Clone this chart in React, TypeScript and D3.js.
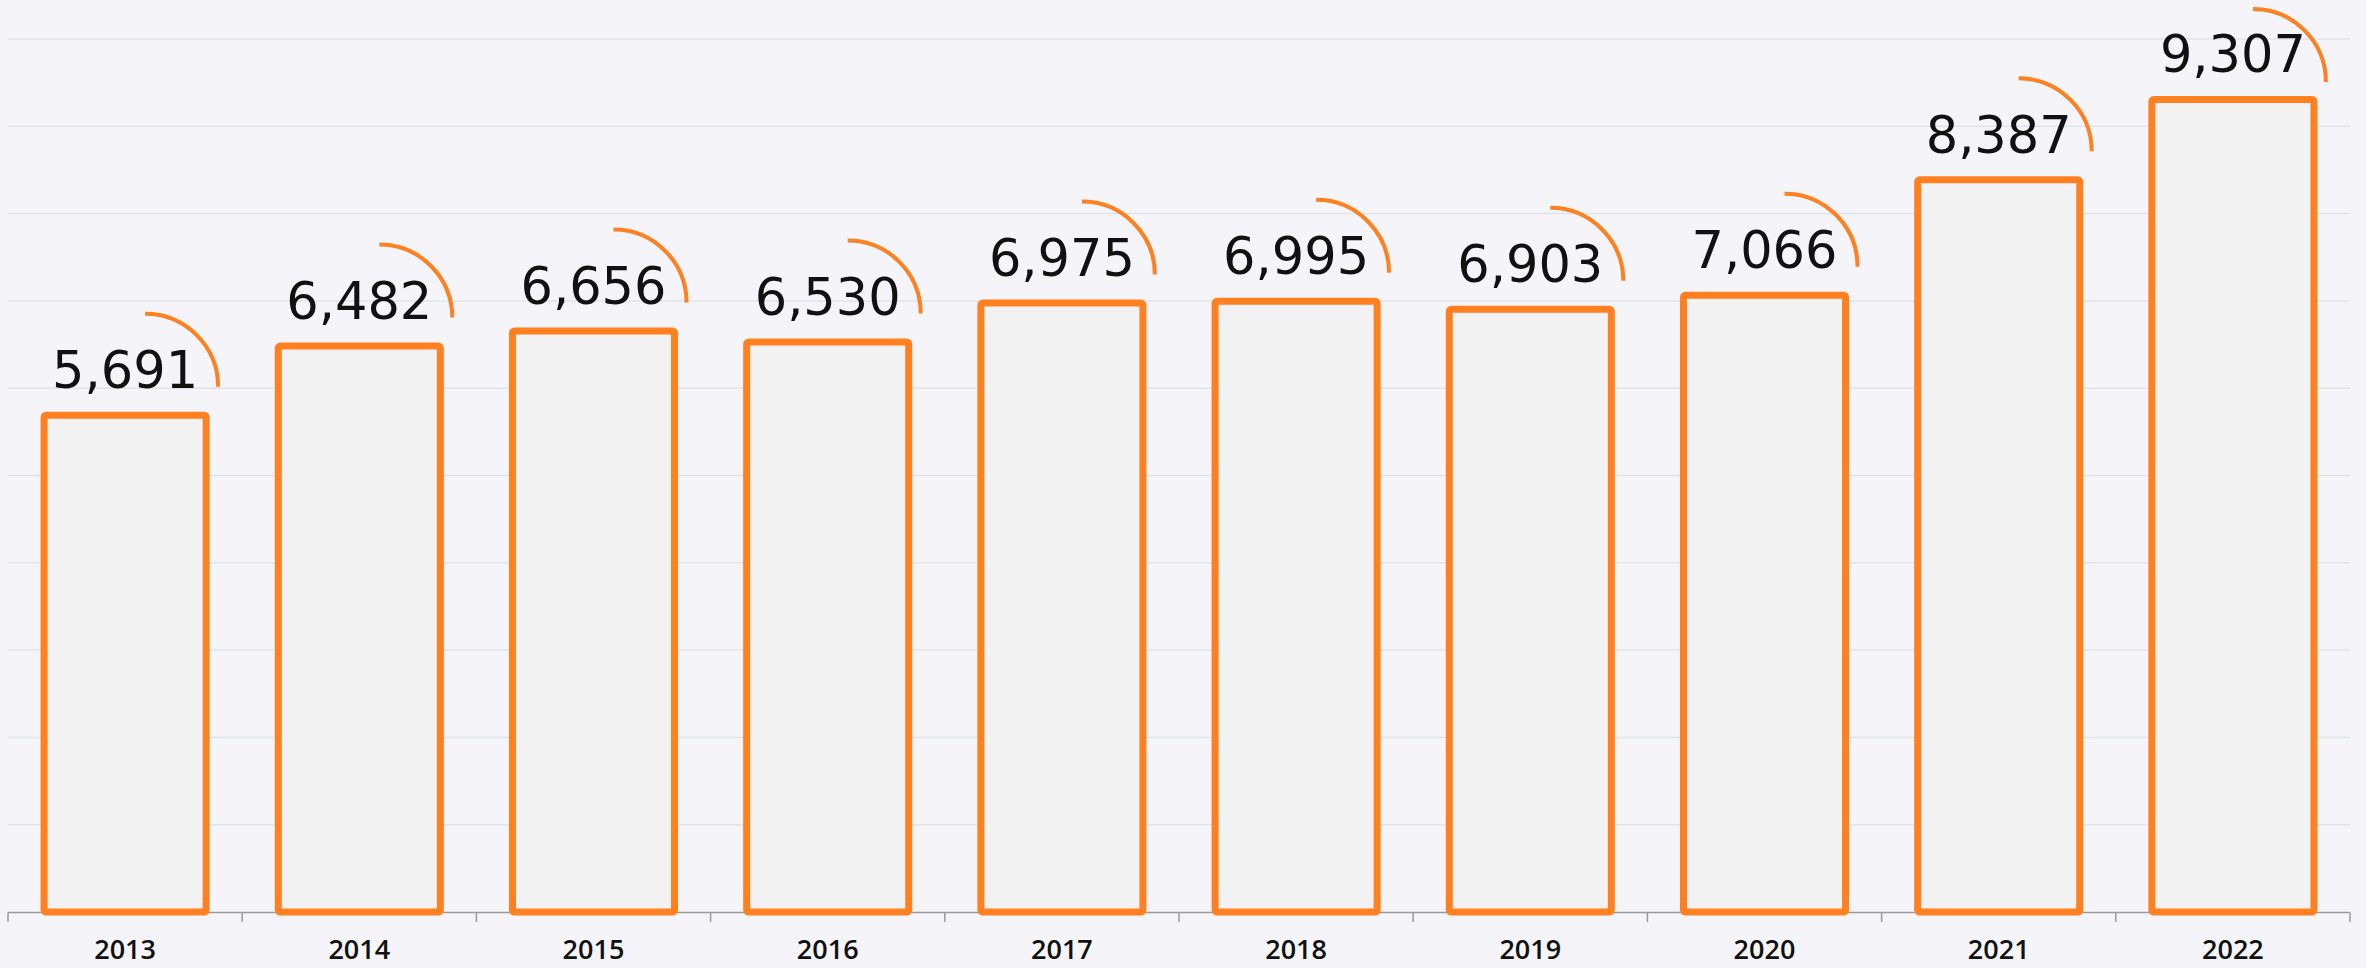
import React from "react";
import * as d3 from "d3";

const years = ["2013", "2014", "2015", "2016", "2017", "2018", "2019", "2020", "2021", "2022"];
const values = [5691, 6482, 6656, 6530, 6975, 6995, 6903, 7066, 8387, 9307];
const gridTicks = [1000, 2000, 3000, 4000, 5000, 6000, 7000, 8000, 9000, 10000];

const W = 2366;
const H = 968;
const ORANGE = "#ff8020";

export default function App() {
  const x = d3.scaleBand<string>().domain(years).range([8, 2350]).paddingInner(0.308).paddingOuter(0.154);
  const y = d3.scaleLinear().domain([0, 10000]).range([912, 39]);
  const fmt = d3.format(",");
  const r = 73;
  const step = x.step();
  const tickXs = d3.range(years.length + 1).map((i) => 8 + i * step);

  return (
    <svg
      width={W}
      height={H}
      style={{ position: "absolute", left: 0, top: 0, display: "block", background: "#f5f5f9" }}
    >
      <rect x={0} y={0} width={W} height={H} fill="#f5f5f9" />
      {gridTicks.map((t) => (
        <line key={t} x1={8} x2={2350} y1={y(t)} y2={y(t)} stroke="#dfe4ea" strokeWidth={1.5} />
      ))}
      {/* x axis */}
      <line x1={8} x2={2350} y1={912.5} y2={912.5} stroke="#9a9a9a" strokeWidth={1.5} />
      {tickXs.map((tx, i) => (
        <line key={i} x1={tx} x2={tx} y1={912.5} y2={922} stroke="#9a9a9a" strokeWidth={1.5} />
      ))}
      {years.map((yr, i) => {
        const bx = x(yr)!;
        const bw = x.bandwidth();
        const top = y(values[i]);
        const cx = bx + bw / 2;
        const acx = cx + 20;
        const acy = Math.max(top - 28.5, 82);
        const p = d3.path();
        p.arc(acx, acy, r, -Math.PI / 2, 0);
        return (
          <g key={yr}>
            <rect
              x={bx}
              y={top}
              width={bw}
              height={y(0) - top}
              fill="#f2f2f2"
              stroke={ORANGE}
              strokeWidth={7}
              rx={2}
            />
            <path d={p.toString()} fill="none" stroke={ORANGE} strokeWidth={4} />
            <text
              x={cx}
              y={top - 27}
              textAnchor="middle"
              fontFamily="'DejaVu Sans', sans-serif"
              fontSize={51}
              fill="#111"
            >
              {fmt(values[i])}
            </text>
            <text
              x={cx}
              y={959}
              textAnchor="middle"
              fontFamily="'Open Sans', sans-serif"
              fontWeight={600}
              fontSize={27}
              fill="#111"
            >
              {yr}
            </text>
          </g>
        );
      })}
    </svg>
  );
}
